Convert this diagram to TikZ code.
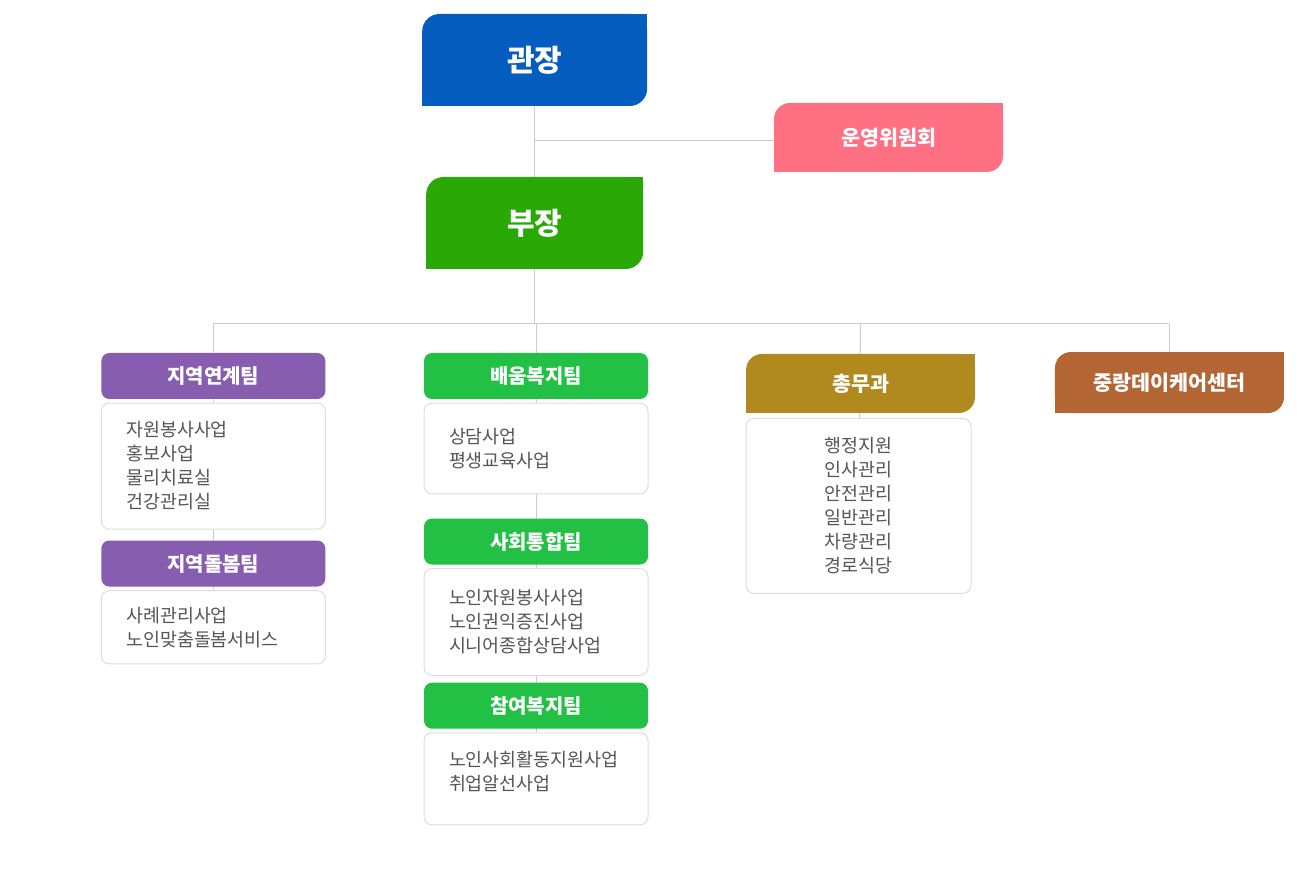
\documentclass[tikz,border=0pt]{standalone}
\usepackage{fontspec}
\setmainfont{Noto Sans CJK KR}
\usepackage{tikz}
\usetikzlibrary{positioning}
\usetikzlibrary{backgrounds}
\definecolor{headblue}{HTML}{045DBF}
\definecolor{boardpink}{HTML}{FF7083}
\definecolor{deputygreen}{HTML}{2AA806}
\definecolor{teampurple}{HTML}{865DAF}
\definecolor{teamgreen}{HTML}{22C045}
\definecolor{admingold}{HTML}{B08A1E}
\definecolor{carebrown}{HTML}{B36634}
\definecolor{linegray}{HTML}{CCCCCC}
\definecolor{boxgray}{HTML}{DDDDDD}
\definecolor{textgray}{HTML}{555555}
\tikzstyle{chief}=[
   rectangle,
   rounded corners=13pt,
   text=white,
   font=\fontsize{22.5}{26}\selectfont\bfseries,
   minimum width=168.75pt,
   minimum height=69pt,
   inner sep=0pt
]
\tikzstyle{office}=[
   rectangle,
   rounded corners=12pt,
   text=white,
   font=\fontsize{15.5}{18}\selectfont\bfseries,
   minimum width=171.75pt,
   inner sep=0pt
]
\tikzstyle{team}=[
   rectangle,
   rounded corners=6pt,
   text=white,
   font=\fontsize{15}{18}\selectfont\bfseries,
   minimum width=168pt,
   minimum height=34.5pt,
   inner sep=0pt
]
\tikzstyle{duty}=[
   rectangle,
   rounded corners=6pt,
   draw=boxgray,
   line width=0.75pt,
   fill=white,
   text=textgray,
   font=\fontsize{13.8}{18}\selectfont,
   align=left,
   text width=130.5pt,
   inner xsep=18.75pt
]
\tikzstyle{wire}=[draw=linegray, line width=0.75pt]
% square off the top right and bottom left corners
\newcommand{\cutcorners}[3]{
   \fill[#2] (#1.north east) rectangle ++(-#3,-#3);
   \fill[#2] (#1.south west) rectangle ++(#3,#3);
}

\begin{document}
\begin{tikzpicture}
      \useasboundingbox (0,0) rectangle (975pt,-660pt);

      \node (director) [chief, fill=headblue] at (401pt,-45pt) {관장};
      \node (board) [office, fill=boardpink, minimum height=51.75pt]
         at (666.4pt,-103.1pt) {운영위원회};
      \node (deputy) [chief, fill=deputygreen, minimum width=162.75pt]
         at (401pt,-167.25pt) {부장};
      \coordinate (bus) at (0,-243pt);

      \node (link) [team, fill=teampurple] at (160pt,-282pt) {지역연계팀};
      \node (linkduty) [duty, below=2.5pt of link, minimum height=94.5pt] {
         자원봉사사업
         \\홍보사업
         \\물리치료실
         \\건강관리실
      };
      \node (care) [team, fill=teampurple, below=8pt of linkduty] {지역돌봄팀};
      \node (careduty) [duty, below=2.5pt of care, minimum height=55pt] {
         사례관리사업
         \\노인맞춤돌봄서비스
      };

      \node (learn) [team, fill=teamgreen] at (402pt,-282pt) {배움복지팀};
      \node (learnduty) [duty, below=2.5pt of learn, minimum height=68pt] {
         상담사업
         \\평생교육사업
      };
      \node (social) [team, fill=teamgreen, below=18pt of learnduty] {사회통합팀};
      \node (socialduty) [duty, below=2.5pt of social, minimum height=80pt] {
         노인자원봉사사업
         \\노인권익증진사업
         \\시니어종합상담사업
      };
      \node (join) [team, fill=teamgreen, below=5pt of socialduty] {참여복지팀};
      \node (joinduty) [duty, below=2.5pt of join, minimum height=69pt] {
         노인사회활동지원사업
         \\취업알선사업
         \\[-6pt]\mbox{}
      };

      \node (admin) [office, fill=admingold, minimum height=44.25pt]
         at (645.4pt,-287.6pt) {총무과};
      \node (adminduty) [duty, align=center, text width=131.25pt,
         minimum height=131.25pt, below=3.5pt of admin, xshift=-1.5pt] {
         행정지원
         \\인사관리
         \\안전관리
         \\일반관리
         \\차량관리
         \\경로식당
      };

      \node (daycare) [office, fill=carebrown, minimum height=45.75pt]
         at (877.1pt,-286.9pt) {중랑데이케어센터};

      \cutcorners{director}{headblue}{13pt}
      \cutcorners{deputy}{deputygreen}{13pt}
      \cutcorners{board}{boardpink}{12pt}
      \cutcorners{admin}{admingold}{12pt}
      \cutcorners{daycare}{carebrown}{12pt}

      \begin{scope}[on background layer]
         \draw[wire] (director) -- (deputy);
         \draw[wire] ([yshift=-2.6pt]board.west) -- ([yshift=-2.6pt]board.west -| director);
         \draw[wire] (deputy) -- (deputy |- bus);
         \draw[wire] (bus -| link) -- (bus -| daycare);
         \draw[wire] (bus -| link) -- (careduty);
         \draw[wire] (bus -| learn) -- (joinduty);
         \draw[wire] (bus -| admin) -- (adminduty);
         \draw[wire] (bus -| daycare) -- (daycare);
      \end{scope}

   \end{tikzpicture}
\end{document}
